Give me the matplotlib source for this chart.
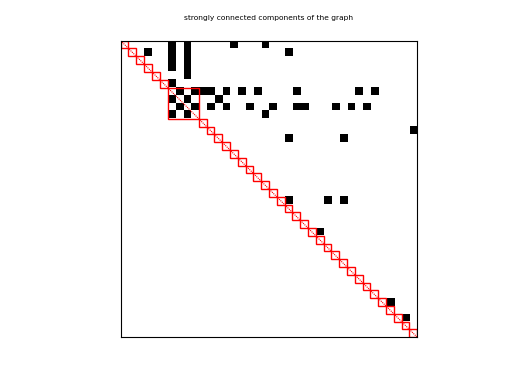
import numpy as np
import matplotlib.pyplot as plt
from matplotlib.patches import Rectangle

# размер матрицы и ненулевые элементы (строка, столбец)
n = 38
rows = [0, 0, 0, 0,
        1, 1, 1, 1,
        2, 2,
        3, 3,
        4,
        5,
        6, 6, 6, 6, 6, 6, 6, 6, 6, 6,
        7, 7, 7,
        8, 8, 8, 8, 8, 8, 8, 8, 8, 8, 8,
        9, 9, 9,
        11,
        12, 12,
        20, 20, 20,
        24,
        33,
        35]
cols = [6, 8, 14, 18,
        3, 6, 8, 21,
        6, 8,
        6, 8,
        8,
        6,
        7, 9, 10, 11, 13, 15, 17, 22, 30, 32,
        6, 8, 12,
        7, 9, 11, 13, 16, 19, 22, 23, 27, 29, 31,
        6, 8, 18,
        37,
        21, 28,
        21, 26, 28,
        25,
        34,
        36]

# размеры компонент сильной связности (по порядку вдоль диагонали)
block_sizes = [1, 1, 1, 1, 1, 1, 4] + [1] * 28

A = np.zeros((n, n))
A[rows, cols] = 1

fig = plt.figure(figsize=(5.12, 3.84), dpi=100)
ax = fig.add_axes([0.2357, 0.1206, 0.5793, 0.7745])

ax.imshow(A, cmap='gray_r', interpolation='nearest', vmin=0, vmax=1,
          extent=(-0.5, n - 0.5, n - 0.5, -0.5))

# диагональ
ax.plot([-0.5, n - 0.5], [-0.5, n - 0.5], color='red', linewidth=0.8,
        linestyle=(0, (1, 0.8)))

# рамки вокруг компонент
start = 0
for s in block_sizes:
    ax.add_patch(Rectangle((start - 0.5, start - 0.5), s, s, fill=False,
                           edgecolor='red', linewidth=1.0))
    start += s

ax.set_xlim(-0.5, n - 0.5)
ax.set_ylim(n - 0.5, -0.5)
ax.set_xticks([])
ax.set_yticks([])
for sp in ax.spines.values():
    sp.set_linewidth(0.8)

ax.set_title("strongly connected components of the graph", fontsize=5.4, pad=15)

fig.savefig("out.png", dpi=100)
